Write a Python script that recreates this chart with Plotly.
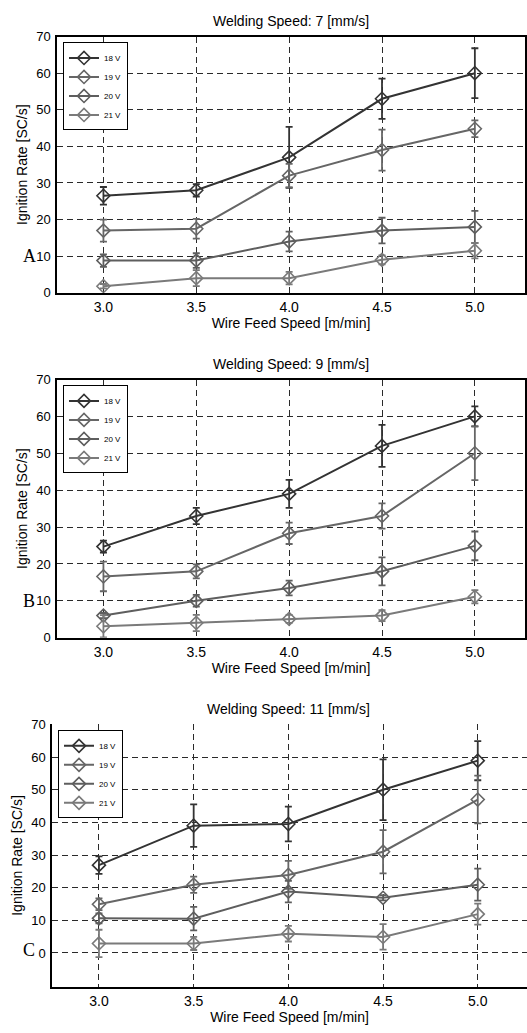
import plotly.graph_objects as go

W, H = 527, 1033

wire_feed = [3.0, 3.5, 4.0, 4.5, 5.0]
voltages = ["18 V", "19 V", "20 V", "21 V"]
colors = ["#333333", "#666666", "#5e5e5e", "#7a7a7a"]

# Panel A: welding speed 7 mm/s
a_18 = [26.5, 28.0, 37.0, 53.0, 60.0]
a_18_err = [2.4, 1.7, 8.3, 5.5, 6.8]
a_19 = [17.0, 17.5, 32.0, 39.0, 44.8]
a_19_err = [3.0, 2.7, 3.2, 5.6, 2.3]
a_20 = [8.8, 8.8, 14.0, 17.0, 18.0]
a_20_err = [1.7, 2.0, 2.7, 3.5, 4.4]
a_21 = [1.8, 4.0, 4.0, 9.0, 11.5]
a_21_err = [0.6, 2.2, 1.7, 1.2, 2.1]

# Panel B: welding speed 9 mm/s
b_18 = [24.7, 33.0, 39.0, 52.0, 60.0]
b_18_err = [1.6, 2.2, 3.8, 5.7, 2.7]
b_19 = [16.6, 18.0, 28.3, 33.0, 50.0]
b_19_err = [4.0, 1.9, 2.9, 3.4, 7.3]
b_20 = [6.0, 10.0, 13.5, 18.0, 24.9]
b_20_err = [0.7, 1.6, 2.0, 3.8, 3.9]
b_21 = [3.1, 4.0, 5.1, 6.0, 11.1]
b_21_err = [3.0, 2.2, 1.1, 1.5, 1.8]

# Panel C: welding speed 11 mm/s
c_18 = [26.9, 39.0, 39.5, 50.0, 58.9]
c_18_err = [2.7, 6.5, 5.3, 9.3, 6.0]
c_19 = [14.9, 20.9, 23.9, 31.0, 47.0]
c_19_err = [1.8, 2.5, 4.3, 6.6, 7.3]
c_20 = [10.6, 10.5, 18.8, 16.9, 20.9]
c_20_err = [1.5, 3.6, 3.3, 0.8, 4.9]
c_21 = [2.9, 2.9, 5.9, 4.9, 11.9]
c_21_err = [4.2, 2.0, 2.4, 3.9, 3.2]

panels = [
    ("Welding Speed: 7 [mm/s]", "A", [(a_18, a_18_err), (a_19, a_19_err), (a_20, a_20_err), (a_21, a_21_err)]),
    ("Welding Speed: 9 [mm/s]", "B", [(b_18, b_18_err), (b_19, b_19_err), (b_20, b_20_err), (b_21, b_21_err)]),
    ("Welding Speed: 11 [mm/s]", "C", [(c_18, c_18_err), (c_19, c_19_err), (c_20, c_20_err), (c_21, c_21_err)]),
]

y_ticks = [0, 10, 20, 30, 40, 50, 60, 70]
x_ticks = [3.0, 3.5, 4.0, 4.5, 5.0]
x_ticklabels = ["3.0", "3.5", "4.0", "4.5", "5.0"]

def px_x(p):
    return p / W

def px_y(p):
    return 1 - p / H

# pixel layout: (left, right, top, bottom) of each plot area
boxes = [(57, 525, 30, 290), (57, 525, 378, 640), (52, 527, 728, 994)]
x_ranges = [[2.75, 5.27], [2.75, 5.27], [2.752, 5.26]]
y_ranges = [[0, 70], [0, 70], [-10.3, 70]]
title_y = [14, 362, 712]
letter_y = [10, 10, 1]
mirrors = [True, True, False]

FONT = "Liberation Sans, Arial, sans-serif"
fig = go.Figure()
annotations = []
layout = dict(
    width=W, height=H, margin=dict(l=0, r=0, t=0, b=0),
    paper_bgcolor="white", plot_bgcolor="white",
    font=dict(family=FONT, color="black", size=13),
)

for i, (title, letter, series) in enumerate(panels):
    n = "" if i == 0 else str(i + 1)
    xa, ya = "x" + n, "y" + n
    lg = "legend" + n
    for (vals, errs), name, col in zip(series, voltages, colors):
        fig.add_trace(go.Scatter(
            x=wire_feed, y=vals, name=name, xaxis=xa, yaxis=ya, legend=lg,
            mode="lines+markers",
            line=dict(color=col, width=2),
            marker=dict(symbol="diamond-open", size=10, color=col, line=dict(width=1.6, color=col)),
            error_y=dict(type="data", array=errs, visible=True, color=col, thickness=1.8, width=3.5),
        ))
    l, r, t, b = boxes[i]
    layout["xaxis" + n] = dict(
        domain=[px_x(l), px_x(r)], range=x_ranges[i], anchor=ya,
        tickvals=x_ticks, ticktext=x_ticklabels, ticks="",
        showgrid=True, gridcolor="#2a2a2a", gridwidth=1, griddash="6px,4px",
        zeroline=False, showline=True, linecolor="black", linewidth=1.5, mirror=mirrors[i],
        tickfont=dict(size=14), ticklabelstandoff=1,
        title=dict(text="Wire Feed Speed [m/min]", font=dict(size=14), standoff=0),
    )
    layout["yaxis" + n] = dict(
        domain=[px_y(b), px_y(t)], range=y_ranges[i], anchor=xa,
        tickvals=y_ticks, ticks="",
        showgrid=True, gridcolor="#2a2a2a", gridwidth=1, griddash="6px,4px",
        zeroline=False, showline=True, linecolor="black", linewidth=1.5, mirror=mirrors[i],
        tickfont=dict(size=13), ticklabelstandoff=2,
        title=dict(text="Ignition Rate [SC/s]", font=dict(size=14), standoff=5),
    )
    layout[lg] = dict(
        x=px_x(l + 6), y=px_y(t + 6), xanchor="left", yanchor="top",
        bgcolor="white", bordercolor="black", borderwidth=1,
        font=dict(size=8, family=FONT), tracegroupgap=0,
    )
    annotations.append(dict(
        text=title, xref="paper", yref="paper",
        x=(px_x(l) + px_x(min(r, 525))) / 2, y=px_y(title_y[i]),
        xanchor="center", yanchor="middle", showarrow=False,
        font=dict(size=14, family=FONT),
    ))
    annotations.append(dict(
        text=letter, xref="paper", yref=ya, x=px_x(29), y=letter_y[i],
        xanchor="center", yanchor="middle", showarrow=False,
        font=dict(size=18, family="Liberation Serif, Times New Roman, serif"),
    ))

layout["annotations"] = annotations
fig.update_layout(**layout)
fig.write_html("out.html")
